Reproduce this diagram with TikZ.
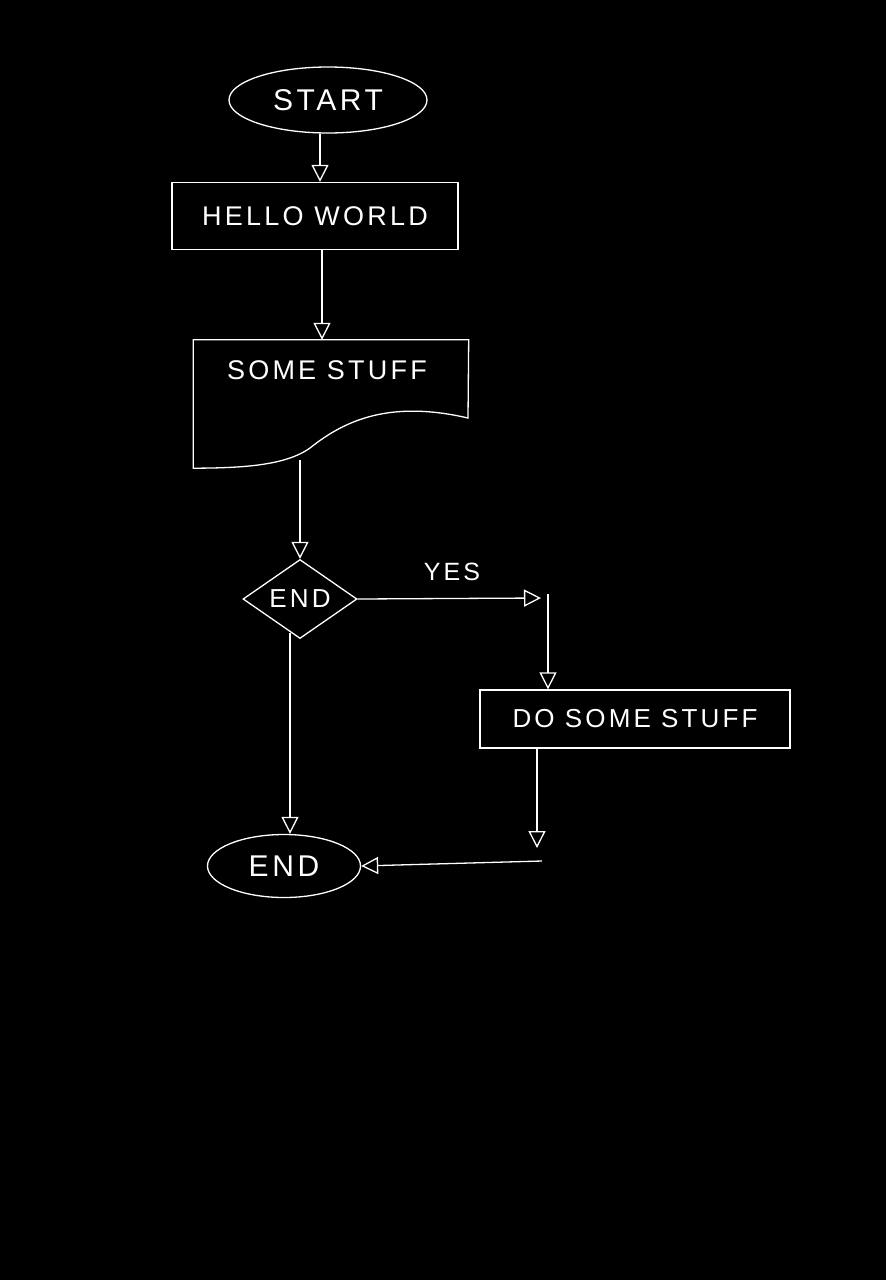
\documentclass[tikz,border=0pt]{standalone}
\usepackage{fontspec}
\usetikzlibrary{arrows.meta,positioning,shapes.geometric}
\newfontfamily\handfont[LetterSpace=12]{Liberation Sans}
\newcommand{\hand}[1]{\fontsize{#1}{#1}\handfont}

\begin{document}
\begin{tikzpicture}[x=1pt, y=-1pt,
      ln/.style={draw=white, line width=1.3pt},
      term/.style={ln, ellipse, inner sep=0pt, text=white},
      box/.style={ln, rectangle, inner sep=0pt, text=white},
      doc/.style={rectangle, inner sep=0pt, minimum width=275pt, minimum height=128pt},
      dec/.style={ln, diamond, inner sep=0pt, text=white},
      txt/.style={text=white, inner sep=0pt},
      arr/.style={ln, -{Triangle[open, length=17pt, width=17pt]}}]
    \path[fill=black] (0,0) rectangle (886,1280);
    \node[term, minimum width=198pt, minimum height=66pt, font=\hand{30}] (start) at (328,100) {START};
    \node[box, minimum width=286pt, minimum height=67pt, font=\hand{27}] (hello) at (315,216) {HELLO WORLD};
    \node[doc] (stuff) at (331,404) {};
    \node[txt, font=\hand{27}] (stufflabel) at (327,370) {SOME STUFF};
    \draw[ln] (stuff.north west) -- (stuff.north east) -- (468,418)
      .. controls (390,400) and (345,420) .. (310,448)
      .. controls (285,466) and (240,468) .. (stuff.south west) -- cycle;
    \node[dec, minimum width=114pt, minimum height=75pt, font=\hand{26}] (check) at (300,599) {END};
    \node[txt, font=\hand{25}] (yes) at (452,572) {YES};
    \coordinate (yesend) at (541,598);
    \coordinate (yestop) at (548,594);
    \node[box, minimum width=310pt, minimum height=58pt, font=\hand{26}] (dostuff) at (635,719) {DO SOME STUFF};
    \coordinate (back) at (537,848);
    \coordinate (backstart) at (542,861);
    \node[term, minimum width=153pt, minimum height=63pt, font=\hand{30}] (end) at (284,866) {END};
    \draw[arr] ([xshift=-8pt]start.south) -- ([xshift=-8pt]start.south |- hello.north);
    \draw[arr] ([xshift=7pt]hello.south) -- ([xshift=7pt]hello.south |- stuff.north);
    \draw[arr] ([yshift=8pt]check.north |- stuff.south) -- (check.north);
    \draw[arr] (check.east) -- (yesend);
    \draw[arr] (yestop) -- (yestop |- dostuff.north);
    \draw[arr] (dostuff.south -| back) -- (back);
    \draw[arr] (backstart) -- (end.east);
    \draw[arr] ([shift={(-10pt,6.5pt)}]check.south) -- ([xshift=-10pt]check.south |- end.north);
  \end{tikzpicture}
\end{document}
